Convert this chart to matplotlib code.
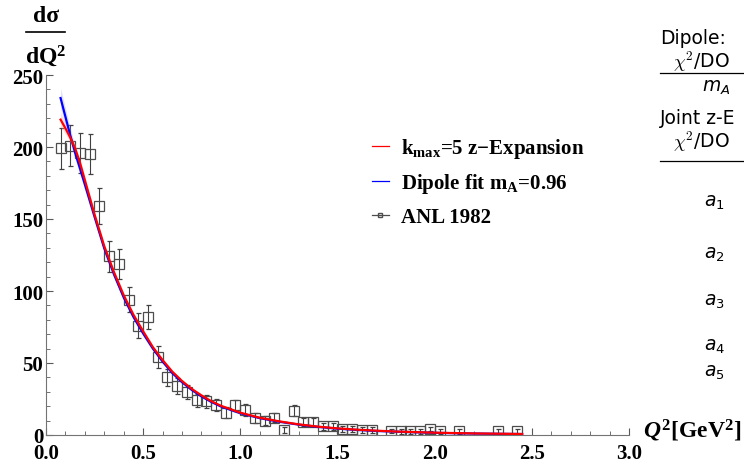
import matplotlib.pyplot as plt
from matplotlib.lines import Line2D

# ANL 1982 data points
q2_data = [0.075, 0.125, 0.175, 0.225, 0.275, 0.325, 0.375, 0.425, 0.475, 0.525,
           0.575, 0.625, 0.675, 0.725, 0.775, 0.825, 0.875, 0.925, 0.975, 1.025,
           1.075, 1.125, 1.175, 1.225, 1.275, 1.325, 1.375, 1.425, 1.475, 1.525,
           1.575, 1.625, 1.675, 1.775, 1.825, 1.875, 1.925, 1.975, 2.025, 2.125,
           2.325, 2.425]
xs_data = [199, 201, 196, 195, 159, 124, 119, 94, 76, 82,
           54, 40, 34, 30, 24, 23.5, 21, 15.5, 20.5, 17.5,
           12, 10, 12, 3.5, 17, 9, 9, 6, 6, 4,
           4, 3.5, 3.3, 3, 2.5, 2.5, 2.5, 4, 2.5, 2.5,
           2.5, 2.5]
xs_err = [14, 14, 14, 14, 12.5, 11, 10.5, 8.5, 8.5, 8.5,
          7.5, 6, 5.5, 5, 4.5, 4.5, 4, 4, 4, 4,
          3.5, 3, 3, 2, 4, 3, 3, 2.5, 2.5, 2,
          2, 2, 2, 1.5, 1.5, 1.5, 1.5, 1.5, 1.5, 1.5,
          1.5, 1.5]

# fit curves
q2_curve = [0.075, 0.1, 0.125, 0.15, 0.175, 0.2, 0.25, 0.3, 0.35, 0.4, 0.45, 0.5,
            0.55, 0.6, 0.65, 0.7, 0.75, 0.8, 0.85, 0.9, 1.0, 1.1, 1.2, 1.3, 1.4,
            1.5, 1.6, 1.7, 1.8, 2.0, 2.2, 2.45]
zexp = [219, 213, 206.5, 199, 189, 177, 153, 131, 113, 97, 83.5, 72,
        61, 52, 44, 37.5, 32, 27.5, 23.5, 20.3, 15.5, 12, 9.5, 7.4, 5.8,
        4.6, 3.7, 3.0, 2.4, 1.6, 1.1, 0.7]
zexp_band = [5, 4, 3, 2.5, 2.5, 2.5, 2.2, 2, 1.8, 1.6, 1.4, 1.2,
             1.1, 1, 0.9, 0.8, 0.7, 0.6, 0.5, 0.5, 0.4, 0.3, 0.3, 0.2, 0.2,
             0.2, 0.1, 0.1, 0.1, 0.1, 0.1, 0.1]
dipole = [234, 221, 208, 196, 185, 174, 151.5, 129.5, 111.5, 95.5, 82, 70.5,
          60, 51, 43, 36.7, 31.3, 26.8, 23, 19.8, 15.1, 11.7, 9.2, 7.2, 5.6,
          4.4, 3.5, 2.8, 2.3, 1.5, 1.0, 0.65]
dipole_band = [7, 6, 5, 4.5, 4, 3.8, 3.3, 2.8, 2.4, 2.1, 1.8, 1.5,
               1.3, 1.1, 0.9, 0.8, 0.7, 0.6, 0.5, 0.4, 0.35, 0.3, 0.2, 0.2, 0.15,
               0.1, 0.1, 0.1, 0.1, 0.05, 0.05, 0.05]

side_labels = ['$a_1$', '$a_2$', '$a_3$', '$a_4$', '$a_5$']

plt.rcParams['font.family'] = ['Liberation Serif', 'DejaVu Serif']
plt.rcParams['mathtext.fontset'] = 'custom'
plt.rcParams['mathtext.rm'] = 'Liberation Serif:bold'
plt.rcParams['mathtext.it'] = 'Liberation Serif:italic:bold'
plt.rcParams['mathtext.bf'] = 'Liberation Serif:bold'

W, H = 744, 464
fig = plt.figure(figsize=(W / 100, H / 100), dpi=100)


def fx(x):
    return x / W


def fy(y):
    return 1 - y / H


ax = fig.add_axes([46 / W, 28 / H, 583 / W, 360 / H])

lo = [v - e for v, e in zip(dipole, dipole_band)]
hi = [v + e for v, e in zip(dipole, dipole_band)]
ax.fill_between(q2_curve, lo, hi, color='#9999ff', alpha=0.3, lw=0, zorder=3)
lo = [v - e for v, e in zip(zexp, zexp_band)]
hi = [v + e for v, e in zip(zexp, zexp_band)]
ax.fill_between(q2_curve, lo, hi, color='#ff9999', alpha=0.3, lw=0, zorder=3)

ax.errorbar(q2_data, xs_data, yerr=xs_err, fmt='s', ms=7, mfc='none', mec='0.3',
            mew=0.9, ecolor='0.25', elinewidth=0.8, capsize=1.8, zorder=2)
ax.plot(q2_curve, dipole, color='blue', lw=1.6, zorder=4)
ax.plot(q2_curve, zexp, color='red', lw=1.6, zorder=5)

ax.set_xlim(0, 3.0)
ax.set_ylim(0, 250)
ax.set_xticks([0, 0.5, 1.0, 1.5, 2.0, 2.5, 3.0])
ax.set_xticklabels(['0.0', '0.5', '1.0', '1.5', '2.0', '2.5', '3.0'])
ax.set_xticks([i / 10 for i in range(31)], minor=True)
ax.set_yticks([0, 50, 100, 150, 200, 250])
ax.set_yticks(list(range(0, 251, 10)), minor=True)
for s in ['top', 'right']:
    ax.spines[s].set_visible(False)
for s in ['left', 'bottom']:
    ax.spines[s].set_color('0.45')
ax.tick_params(which='both', direction='in', color='0.35', labelsize=15)
ax.tick_params(which='major', length=5, width=0.8)
ax.tick_params(which='minor', length=3, width=0.6)
ax.tick_params(axis='x', pad=6)
ax.tick_params(axis='y', pad=2)
for lab in ax.get_xticklabels() + ax.get_yticklabels():
    lab.set_fontweight('bold')

handles = [Line2D([], [], color='red', lw=0.9),
           Line2D([], [], color='blue', lw=0.9),
           Line2D([], [], color='0.3', lw=0.9, marker='s', ms=3.5, mfc='none')]
labels = [r'$\mathrm{k_{max}}$=5 z−Expansion',
          r'Dipole fit $\mathrm{m_A}$=0.96',
          'ANL 1982']
ax.legend(handles, labels, loc='upper left', bbox_to_anchor=(fx(372), fy(137)),
          bbox_transform=fig.transFigure, frameon=False,
          prop={'size': 15, 'weight': 'bold'},
          handlelength=0.8, handletextpad=0.6, labelspacing=0.55,
          borderpad=0, borderaxespad=0)

# axis labels
fig.text(fx(46), fy(17), 'dσ', fontsize=17, weight='bold', ha='center', va='center')
fig.add_artist(Line2D([fx(26), fx(65)], [fy(33), fy(33)], color='black', lw=1.2))
fig.text(fx(46), fy(56), 'dQ$^2$', fontsize=17, weight='bold', ha='center', va='center')
fig.text(fx(643), fy(431), r'$Q^2$[GeV$^2$]', fontsize=17, weight='bold',
         ha='left', va='center')

# right side panel text
side = dict(family='DejaVu Sans', fontsize=13.5, va='center')
fig.text(fx(660), fy(38), 'Dipole:', **side)
fig.text(fx(673), fy(62), r'$\chi^2$/DO', math_fontfamily='cm', **side)
fig.add_artist(Line2D([fx(660), 1.0], [fy(74), fy(74)], color='black', lw=0.9))
fig.text(fx(702), fy(88), '$m_A$', math_fontfamily='dejavusans', **side)
fig.text(fx(660), fy(118), 'Joint z-E', **side)
fig.text(fx(673), fy(142), r'$\chi^2$/DO', math_fontfamily='cm', **side)
fig.add_artist(Line2D([fx(660), 1.0], [fy(162), fy(162)], color='black', lw=0.9))
for lab, yy in zip(side_labels, [203, 255, 302, 347, 373]):
    fig.text(fx(704), fy(yy), lab, math_fontfamily='dejavusans', **side)

fig.savefig('out.png', dpi=100)
